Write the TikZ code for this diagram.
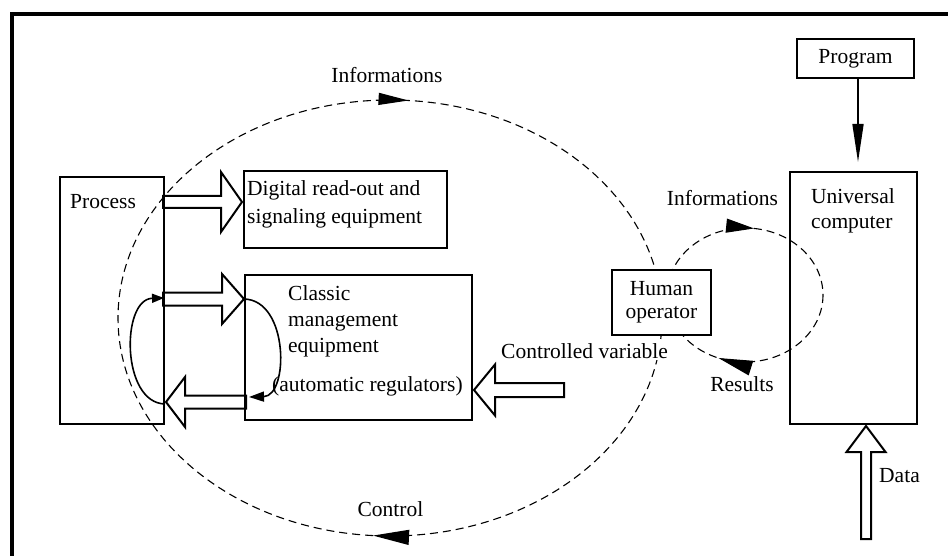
\documentclass[tikz,border=0pt]{standalone}
\usepackage{fontspec}
\setmainfont{Liberation Serif}
\usetikzlibrary{arrows.meta,calc,decorations.markings,positioning}

\tikzset{
  box/.style={draw,line width=2pt,inner sep=0pt},
  txt/.style={inner sep=1pt,align=left,font=\fontsize{21.5}{26}\selectfont},
  blockline/.style={line width=2pt,line join=miter},
  dashline/.style={line width=1.1pt,dash pattern=on 8pt off 5pt},
  loopline/.style={line width=1.6pt},
  pics/blockarrow/.style n args={4}{code={
    \draw[blockline] (0,0) -- (-#4,#3) -- (-#4,#2) -- (-#1,#2) -- (-#1,-#2) -- (-#4,-#2) -- (-#4,-#3) -- cycle;}},
}

\begin{document}
\begin{tikzpicture}[x=1pt,y=-1pt]
		\useasboundingbox (0,0) rectangle (948,556);
		\draw[line width=4pt] (948,14) -- (12,14) -- (12,556);

		\node[box,minimum width=104pt,minimum height=247pt] (process) at (112,300.5) {};
		\node[box,minimum width=203pt,minimum height=77pt] (digital) at (345.5,209.5) {};
		\node[box,minimum width=227pt,minimum height=145pt] (classic) at (358.5,347.5) {};
		\node[box,minimum width=127pt,minimum height=252pt] (computer) at (853.5,298) {};
		\node[box,minimum width=117pt,minimum height=39pt,txt,align=center] (program) at (855.5,58.5) {Program};

		\node[txt,anchor=west] (processlbl) at (69,202) {Process};
		\node[txt,anchor=west,font=\fontsize{21.5}{28}\selectfont] (digitallbl) at (246,204) {Digital read-out and\\signaling equipment};
		\node[txt,anchor=west] (classiclbl) at (287,321.5) {Classic\\management\\equipment};
		\node[txt,anchor=west] (reglbl) at (271,386) {(automatic regulators)};
		\node[txt,anchor=west,font=\fontsize{21.5}{25}\selectfont] (computerlbl) at (810,210.5) {Universal\\computer};

		\pic at ($(digital.west)+(-1,-7.5)$) {blockarrow={79}{6}{30}{21}};
		\pic at ($(classic.north west)+(0,25)$) {blockarrow={81}{6.5}{25}{22}};
		\pic[rotate=180] at ($(process.south east)+(1,-23)$) {blockarrow={80}{6.5}{25}{19}};
		\pic[rotate=180] at ($(classic.east)+(1,42.5)$) {blockarrow={90}{7}{25.5}{21}};
		\pic[rotate=90] at ($(computer.south)+(12.5,1)$) {blockarrow={113}{5}{19.5}{26}};

		\draw[loopline,-{Triangle[length=12pt,width=9pt]}] ($(process.south east)+(0,-21)$) .. controls (121,403) and (121,299) .. ($(process.north east)+(-1,122)$);
		\draw[loopline,-{Triangle[length=15pt,width=10pt]}] ($(classic.north west)+(0,25)$) .. controls (289,300) and (289,396) .. ($(classic.south west)+(5,-24)$);
		\draw[loopline,-{Triangle[length=38pt,width=11pt]},shorten >=9pt] ($(program.south)+(2.5,0)$) -- ($(computer.north)+(4.5,0)$);

		\draw[dashline,postaction={decorate},decoration={markings,
			mark=at position 0.261 with {\arrow[solid]{Triangle[length=36pt,width=15pt]}},
			mark=at position 0.762 with {\arrow[solid]{Triangle[length=30pt,width=12pt]}}}]
			(390,318) ellipse [x radius=272,y radius=218];
		\draw[dashline,postaction={decorate},decoration={markings,
			mark=at position 0.309 with {\arrow[solid]{Triangle[length=34pt,width=15pt]}},
			mark=at position 0.77 with {\arrow[solid]{Triangle[length=28pt,width=14pt]}}}]
			(745,295) ellipse [x radius=78,y radius=67];

		\node[box,fill=white,minimum width=99pt,minimum height=65pt,txt,align=center,font=\fontsize{21.5}{23}\selectfont] (human) at (661.5,302.5) {Human\\operator};

		\node[txt] (info1) at (387,75) {Informations};
		\node[txt] (info2) at (722.5,198) {Informations};
		\node[txt,fill=white] (ctrlvar) at (584.5,351) {Controlled variable};
		\node[txt] (results) at (742,384) {Results};
		\node[txt] (control) at (390.5,509) {Control};
		\node[txt,anchor=west] (data) at (878,476) {Data};
		\end{tikzpicture}
\end{document}
